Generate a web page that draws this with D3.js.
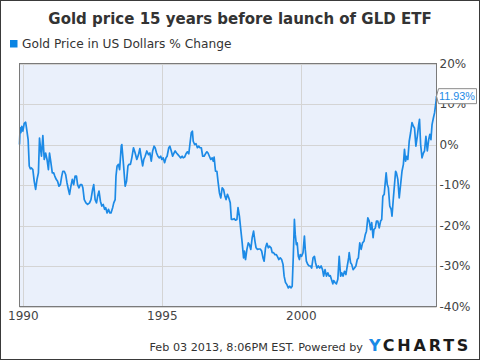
<!DOCTYPE html>
<html>
<head>
<meta charset="utf-8">
<script src="https://cdn.jsdelivr.net/npm/d3@7"></script>
<style>
  html, body { margin: 0; padding: 0; background: #fff; }
  svg { display: block; font-family: "DejaVu Sans", sans-serif; }
</style>
</head>
<body>
<svg id="chart" width="480" height="360"></svg>
<script>
// ---- Data ----
const chartTitle = "Gold price 15 years before launch of GLD ETF";
const seriesName = "Gold Price in US Dollars % Change";
const footerText = "Feb 03 2013, 8:06PM EST. Powered by";
const startDate = "1989-11-18";
const endDate = "2004-11-18";
const yTicks = [-40, -30, -20, -10, 0, 10, 20];
const xTickYears = [1990, 1995, 2000];

// sample times as decimal years
const years = [
  1989.88, 1989.90, 1989.91, 1989.93, 1989.96, 1990.00, 1990.05, 1990.10, 1990.14, 1990.19,
  1990.23, 1990.27, 1990.31, 1990.36, 1990.41, 1990.46, 1990.51, 1990.56, 1990.60, 1990.64,
  1990.67, 1990.72, 1990.77, 1990.82, 1990.87, 1990.92, 1990.96, 1991.01, 1991.06, 1991.11,
  1991.15, 1991.20, 1991.25, 1991.30, 1991.35, 1991.40, 1991.44, 1991.49, 1991.54, 1991.59,
  1991.64, 1991.68, 1991.73, 1991.78, 1991.83, 1991.88, 1991.93, 1991.97, 1992.02, 1992.07,
  1992.12, 1992.16, 1992.21, 1992.27, 1992.33, 1992.40, 1992.45, 1992.51, 1992.55, 1992.60,
  1992.65, 1992.69, 1992.74, 1992.79, 1992.84, 1992.89, 1992.94, 1992.98, 1993.03, 1993.08,
  1993.13, 1993.17, 1993.23, 1993.27, 1993.32, 1993.35, 1993.39, 1993.44, 1993.48, 1993.54,
  1993.56, 1993.62, 1993.68, 1993.73, 1993.78, 1993.82, 1993.87, 1993.92, 1993.98, 1994.04,
  1994.10, 1994.16, 1994.21, 1994.26, 1994.31, 1994.35, 1994.40, 1994.46, 1994.52, 1994.57,
  1994.62, 1994.67, 1994.72, 1994.76, 1994.81, 1994.86, 1994.91, 1994.96, 1995.00, 1995.05,
  1995.10, 1995.15, 1995.19, 1995.25, 1995.29, 1995.34, 1995.39, 1995.44, 1995.48, 1995.53,
  1995.58, 1995.63, 1995.68, 1995.73, 1995.77, 1995.82, 1995.87, 1995.92, 1995.97, 1996.01,
  1996.06, 1996.10, 1996.13, 1996.18, 1996.23, 1996.28, 1996.33, 1996.37, 1996.42, 1996.47,
  1996.52, 1996.57, 1996.62, 1996.66, 1996.71, 1996.76, 1996.81, 1996.85, 1996.88, 1996.93,
  1996.98, 1997.02, 1997.07, 1997.12, 1997.17, 1997.22, 1997.27, 1997.31, 1997.36, 1997.41,
  1997.46, 1997.50, 1997.55, 1997.60, 1997.65, 1997.70, 1997.74, 1997.79, 1997.84, 1997.89,
  1997.94, 1997.97, 1998.01, 1998.06, 1998.11, 1998.15, 1998.20, 1998.25, 1998.30, 1998.35,
  1998.39, 1998.44, 1998.49, 1998.54, 1998.59, 1998.64, 1998.68, 1998.73, 1998.78, 1998.83,
  1998.87, 1998.93, 1998.97, 1999.02, 1999.07, 1999.12, 1999.16, 1999.21, 1999.26, 1999.31,
  1999.36, 1999.40, 1999.45, 1999.50, 1999.55, 1999.60, 1999.65, 1999.69, 1999.73, 1999.77,
  1999.80, 1999.84, 1999.87, 1999.91, 1999.95, 1999.98, 2000.03, 2000.08, 2000.13, 2000.16,
  2000.20, 2000.25, 2000.30, 2000.35, 2000.39, 2000.44, 2000.49, 2000.53, 2000.58, 2000.63,
  2000.68, 2000.73, 2000.78, 2000.82, 2000.87, 2000.92, 2000.97, 2001.02, 2001.06, 2001.11,
  2001.15, 2001.18, 2001.23, 2001.28, 2001.33, 2001.38, 2001.43, 2001.47, 2001.52, 2001.57,
  2001.62, 2001.67, 2001.72, 2001.74, 2001.79, 2001.83, 2001.88, 2001.93, 2001.98, 2002.03,
  2002.07, 2002.12, 2002.17, 2002.22, 2002.27, 2002.32, 2002.36, 2002.41, 2002.46, 2002.51,
  2002.55, 2002.60, 2002.63, 2002.68, 2002.72, 2002.77, 2002.82, 2002.87, 2002.91, 2002.95,
  2003.00, 2003.03, 2003.07, 2003.11, 2003.15, 2003.20, 2003.25, 2003.28, 2003.33, 2003.37,
  2003.41, 2003.44, 2003.49, 2003.54, 2003.59, 2003.64, 2003.69, 2003.73, 2003.77, 2003.81,
  2003.85, 2003.90, 2003.95, 2004.00, 2004.05, 2004.09, 2004.14, 2004.19, 2004.24, 2004.27,
  2004.31, 2004.36, 2004.41, 2004.45, 2004.50, 2004.55, 2004.60, 2004.64, 2004.68, 2004.72,
  2004.77, 2004.81, 2004.85, 2004.87, 2004.88
];

// % change values
const pctChange = [
  0.0, 4.1, 4.1, 2.9, 4.5, 3.3, 5.2, 5.5, 3.7, 1.2,
  -5.3, -6.0, -5.8, -6.2, -9.1, -11.1, -8.6, -7.0, 1.6, -1.2,
  -2.9, 2.2, -3.7, -2.1, -3.7, -6.2, -2.1, -4.5, -7.0, -7.0,
  -7.8, -8.6, -9.1, -10.3, -9.9, -7.8, -6.6, -6.6, -7.4, -9.5,
  -11.1, -12.3, -10.3, -8.6, -9.9, -7.8, -7.8, -9.9, -10.7, -9.9,
  -9.9, -10.7, -13.6, -14.4, -14.8, -14.4, -13.6, -11.1, -9.9, -13.6,
  -14.4, -12.8, -11.5, -14.0, -15.2, -14.8, -16.0, -15.6, -16.9, -16.0,
  -16.9, -16.9, -15.6, -14.4, -13.6, -7.8, -5.3, -4.9, -6.2, -0.4,
  0.0, -4.9, -10.3, -9.1, -5.3, -4.9, -4.9, -3.3, -0.8, -2.1,
  -3.7, -2.5, -1.0, -3.3, -5.3, -3.7, -2.9, -1.6, -2.5, -2.1,
  -4.1, -1.6, -0.4, -0.8, -2.1, -2.9, -3.3, -2.9, -3.7, -3.3,
  -4.5, -3.3, -2.9, -0.8, -0.4, -1.6, -2.9, -2.1, -1.6, -2.1,
  -2.5, -2.9, -3.3, -2.9, -3.3, -3.1, -2.3, -1.8, -2.3, 0.0,
  2.9, 3.3, 0.8, 0.0, 0.2, -0.8, -0.4, -0.8, -0.8, -2.9,
  -2.9, -2.3, -1.8, -2.1, -2.9, -3.7, -3.3, -4.1, -3.1, -6.6,
  -6.6, -9.1, -11.9, -13.2, -10.7, -11.1, -12.8, -13.6, -12.3, -13.2,
  -14.4, -18.5, -18.5, -18.3, -18.7, -18.5, -15.6, -17.7, -21.0, -24.3,
  -28.0, -26.3, -28.4, -25.9, -24.3, -24.7, -25.9, -23.0, -21.4, -23.9,
  -25.5, -25.9, -25.8, -25.8, -26.3, -28.0, -28.8, -25.5, -24.4, -25.5,
  -25.1, -25.5, -26.7, -26.7, -27.2, -27.2, -27.7, -28.4, -28.0, -28.4,
  -29.6, -32.5, -34.1, -34.6, -35.4, -35.0, -35.4, -35.0, -27.6, -18.5,
  -22.2, -24.7, -24.3, -27.6, -28.4, -27.2, -27.6, -26.7, -22.6, -25.9,
  -28.8, -29.6, -30.0, -30.0, -30.5, -28.0, -27.6, -29.2, -30.5, -30.0,
  -30.5, -30.0, -30.9, -32.5, -30.9, -32.5, -31.7, -32.5, -32.4, -33.5,
  -34.4, -33.6, -34.1, -34.4, -33.3, -27.6, -32.5, -31.7, -32.5, -31.3,
  -32.1, -30.0, -28.0, -26.7, -29.2, -29.6, -30.9, -30.5, -30.0, -28.4,
  -28.0, -24.3, -25.9, -24.3, -23.9, -22.2, -21.4, -18.1, -18.9, -21.0,
  -19.3, -23.0, -21.0, -20.6, -18.9, -18.9, -20.6, -18.9, -18.5, -12.8,
  -12.3, -9.9, -7.0, -9.9, -10.7, -15.2, -16.0, -17.7, -13.2, -9.9,
  -6.6, -7.0, -8.6, -13.2, -9.9, -6.6, -4.9, -1.2, -4.1, -2.9,
  -3.7, 0.8, 2.9, 5.4, 4.5, 4.1, -0.4, 2.0, 4.9, 6.2,
  0.0, -3.3, -2.1, -1.6, 2.0, -1.6, 1.2, 2.5, 1.2, 4.9,
  6.6, 7.8, 9.9, 11.0, 11.93
];

// ---- Helpers ----
function yearToDate(y) {
  const yr = Math.floor(y);
  const s = Date.UTC(yr, 0, 1), e = Date.UTC(yr + 1, 0, 1);
  return new Date(s + (y - yr) * (e - s));
}
const data = years.map((y, i) => ({ date: yearToDate(y), value: pctChange[i] }));

// ---- Layout ----
const svg = d3.select("#chart");
const W = 480, H = 360;
const plot = { left: 19.5, right: 436.5, top: 63.5, bottom: 306.5 };
const lineColor = "#1c8ae6";

const x = d3.scaleUtc()
  .domain([new Date(startDate + "T00:00:00Z"), new Date(endDate + "T00:00:00Z")])
  .range([plot.left, plot.right]);
const y = d3.scaleLinear().domain([-40, 20]).range([plot.bottom, plot.top]);

// outer frame
svg.append("rect").attr("x", 0.5).attr("y", 0.5).attr("width", W - 1).attr("height", H - 1)
  .attr("fill", "#fff").attr("stroke", "#3a3a3a").attr("stroke-width", 1);

// title
svg.append("text").attr("x", 240).attr("y", 24).attr("text-anchor", "middle")
  .attr("font-size", 15).attr("font-weight", "bold").attr("fill", "#333").text(chartTitle);

// legend
svg.append("rect").attr("x", 10).attr("y", 40).attr("width", 7.5).attr("height", 7.5).attr("fill", "#0a84e3");
svg.append("text").attr("x", 22).attr("y", 48).attr("font-size", 12.2).attr("fill", "#333").text(seriesName);

// plot background
svg.append("rect").attr("x", plot.left).attr("y", plot.top)
  .attr("width", plot.right - plot.left).attr("height", plot.bottom - plot.top)
  .attr("fill", "#eaf0fb");

// grid
const xTickDates = xTickYears.map(yr => new Date(Date.UTC(yr, 0, 1)));
svg.append("g").selectAll("line").data(yTicks).join("line")
  .attr("x1", plot.left).attr("x2", plot.right)
  .attr("y1", d => Math.round(y(d)) + 0.5).attr("y2", d => Math.round(y(d)) + 0.5)
  .attr("stroke", "#d4d4d4").attr("stroke-width", 1);
svg.append("g").selectAll("line").data(xTickDates).join("line")
  .attr("y1", plot.top).attr("y2", plot.bottom)
  .attr("x1", d => Math.round(x(d)) + 0.5).attr("x2", d => Math.round(x(d)) + 0.5)
  .attr("stroke", "#d4d4d4").attr("stroke-width", 1);

// line
const line = d3.line().x(d => x(d.date)).y(d => y(d.value));
svg.append("path").datum(data).attr("d", line)
  .attr("fill", "none").attr("stroke", lineColor).attr("stroke-width", 1.7)
  .attr("stroke-linejoin", "round");

// plot border
svg.append("rect").attr("x", plot.left).attr("y", plot.top)
  .attr("width", plot.right - plot.left).attr("height", plot.bottom - plot.top)
  .attr("fill", "none").attr("stroke", "#7a7a7a").attr("stroke-width", 1);

// y axis (right)
const yAxis = d3.axisRight(y).tickValues(yTicks).tickFormat(d => d + "%").tickSize(0).tickPadding(3);
const gy = svg.append("g").attr("transform", `translate(${plot.right},0)`).call(yAxis);
gy.select(".domain").remove();
gy.selectAll("text").attr("font-size", 12).attr("fill", "#444").attr("font-family", "DejaVu Sans, sans-serif");

// x axis
const xAxis = d3.axisBottom(x).tickValues(xTickDates).tickFormat(d3.utcFormat("%Y")).tickSize(0).tickPadding(5);
const gx = svg.append("g").attr("transform", `translate(0,${plot.bottom})`).call(xAxis);
gx.select(".domain").remove();
gx.selectAll("text").attr("font-size", 12).attr("fill", "#444").attr("font-family", "DejaVu Sans, sans-serif");

// last value flag
const last = data[data.length - 1];
const ly = y(last.value);
const fx = plot.right;
svg.append("path")
  .attr("d", `M${fx},${ly} L${fx + 2},${ly - 7.5} L${fx + 40},${ly - 7.5} L${fx + 40},${ly + 7.5} L${fx + 2},${ly + 7.5} Z`)
  .attr("fill", "#fff").attr("stroke", "#8a8a8a").attr("stroke-width", 1);
svg.append("text").attr("x", fx + 2.5).attr("y", ly + 4).attr("font-size", 10.8)
  .attr("font-family", "Liberation Sans, Arial, sans-serif")
  .attr("fill", "#1c8ae6").text(last.value.toFixed(2) + "%");

// footer
svg.append("text").attr("x", 363).attr("y", 351).attr("text-anchor", "end")
  .attr("font-size", 11.2).attr("fill", "#333").text(footerText);
const logo = svg.append("text").attr("x", 369).attr("y", 351)
  .attr("font-size", 16).attr("font-weight", "900").attr("letter-spacing", 2.8);
logo.append("tspan").attr("fill", "#1a8ae6").text("Y");
logo.append("tspan").attr("fill", "#1b1b1b").text("CHARTS");
</script>
</body>
</html>
